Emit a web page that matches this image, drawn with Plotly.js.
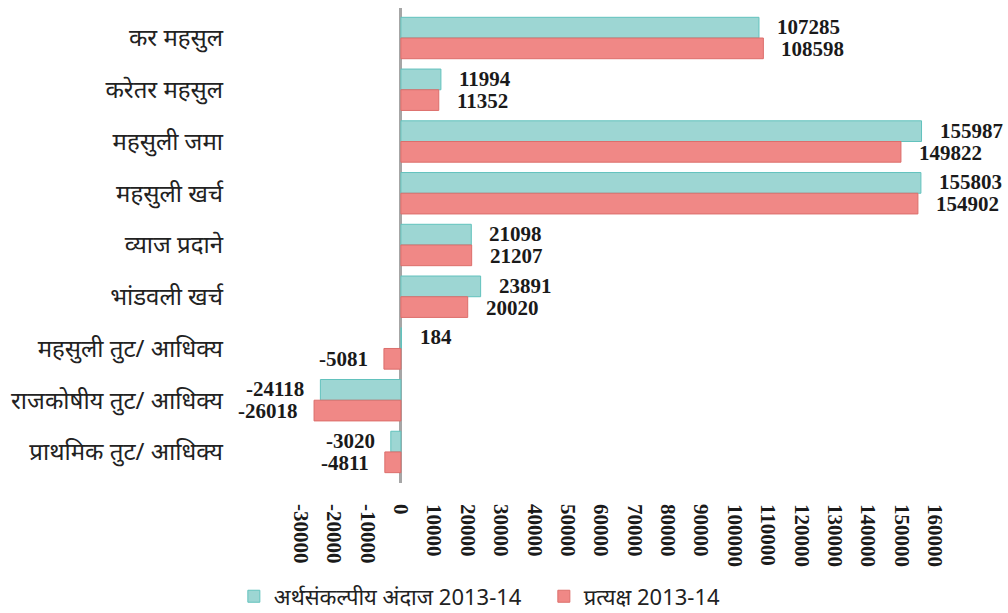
<!DOCTYPE html>
<html>
<head>
<meta charset="utf-8">
<script src="https://cdn.plot.ly/plotly-3.0.1.min.js"></script>
<style>html,body{margin:0;padding:0;background:#fff;}#chart{width:1008px;height:613px;}</style>
</head>
<body>
<div id="chart"></div>
<script>
const categories = ["कर महसुल","करेतर महसुल","महसुली जमा","महसुली खर्च","व्याज प्रदाने","भांडवली खर्च","महसुली तुट/ आधिक्य","राजकोषीय तुट/ आधिक्य","प्राथमिक तुट/ आधिक्य"];
const budget = [107285, 11994, 155987, 155803, 21098, 23891, 184, -24118, -3020];
const actual = [108598, 11352, 149822, 154902, 21207, 20020, -5081, -26018, -4811];
const seriesNames = ["अर्थसंकल्पीय अंदाज 2013-14", "प्रत्यक्ष 2013-14"];
const tickValues = [-30000,-20000,-10000,0,10000,20000,30000,40000,50000,60000,70000,80000,90000,100000,110000,120000,130000,140000,150000,160000];

const serif = "Liberation Serif, Times New Roman, serif";
const sans = "Noto Sans, Lohit Devanagari, FreeSans, sans-serif";

const traces = [
  {type:'bar', orientation:'h', name:seriesNames[0], y:categories, x:budget,
   marker:{color:'#9dd6d3', line:{color:'#62c2bd', width:1}}, hoverinfo:'x'},
  {type:'bar', orientation:'h', name:seriesNames[1], y:categories, x:actual,
   marker:{color:'#f08886', line:{color:'#dc6e6b', width:1}}, hoverinfo:'x'}
];

const annotations = [];
function addLabels(vals, shift){
  vals.forEach((v,i)=>{
    annotations.push({x:v, y:categories[i], xref:'x', yref:'y', text:String(v), showarrow:false,
      xanchor: v>=0 ? 'left':'right', xshift: v>=0 ? 16 : -14, yshift: shift,
      font:{family:serif, size:21, color:'#1a1a1a', weight:'bold'}});
  });
}
addLabels(budget, 11);
addLabels(actual, -11);

const layout = {
  width:1008, height:613,
  margin:{l:234, r:13, t:8, b:130},
  paper_bgcolor:'#fff', plot_bgcolor:'#fff',
  barmode:'group', bargap:0.2, bargroupgap:0,
  showlegend:true,
  legend:{orientation:'h', xref:'container', yref:'container', x:0.232, y:0.027, xanchor:'left', yanchor:'middle',
    font:{family:sans, size:22, color:'#222'}, traceorder:'normal', itemwidth:30, entrywidth:265},
  xaxis:{range:[-50000,178000], tickvals:tickValues, ticktext:tickValues.map(String), tickangle:90,
    showgrid:false, zeroline:true, zerolinecolor:'#a6a6a6', zerolinewidth:3, showline:false, ticks:'',
    ticklabelstandoff:20,
    tickfont:{family:serif, size:21, color:'#1a1a1a', weight:'bold'}},
  yaxis:{type:'category', range:[8.6,-0.58], showgrid:false, zeroline:false, showline:false, ticks:'',
    ticklabelstandoff:10,
    tickfont:{family:sans, size:24, color:'#222'}},
  annotations:annotations
};
Plotly.newPlot('chart', traces, layout, {displayModeBar:false, staticPlot:true});
</script>
</body>
</html>
